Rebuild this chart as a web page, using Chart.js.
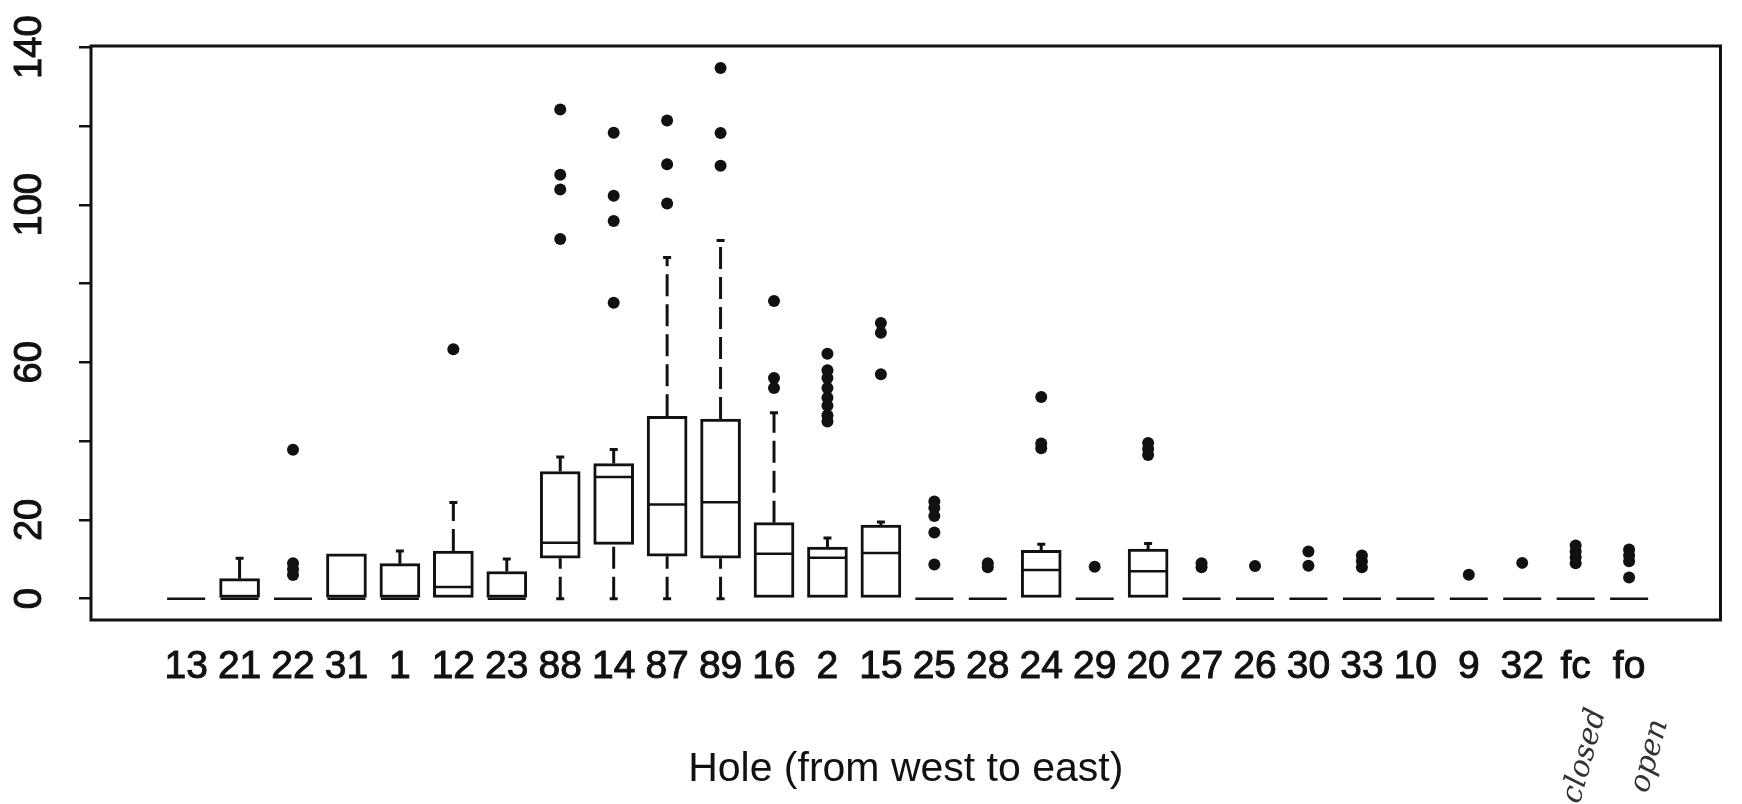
<!DOCTYPE html>
<html>
<head>
<meta charset="utf-8">
<script src="https://cdn.jsdelivr.net/npm/chart.js@4.4.0/dist/chart.umd.min.js"></script>
<style>
  html, body { margin: 0; padding: 0; background: #fff; }
  #wrap { width: 1742px; height: 804px; }
</style>
</head>
<body>
<div id="wrap"><canvas id="myChart" width="1742" height="804"></canvas></div>
<script>
// holes, west to east (fc / fo = closed / open controls)
const categories = ["13", "21", "22", "31", "1", "12", "23", "88", "14", "87", "89", "16", "2", "15",
  "25", "28", "24", "29", "20", "27", "26", "30", "33", "10", "9", "32", "fc", "fo"];

const q1 = [0, 0, 0, 0, 0, 0, 0, 10.3, 13.8, 10.8, 10.3, 0, 0, 0,
  0, 0, 0, 0, 0, 0, 0, 0, 0, 0, 0, 0, 0, 0];
const median = [0, 0, 0, 0, 0, 3, 0, 14.2, 30.9, 23.9, 24.5, 11.4, 10.4, 11.6,
  0, 0, 7.3, 0, 7, 0, 0, 0, 0, 0, 0, 0, 0, 0];
const q3 = [0, 5.1, 0, 11.4, 8.9, 12.1, 6.9, 32.3, 34.3, 46.3, 45.6, 19.3, 13.1, 18.7,
  0, 0, 12.3, 0, 12.6, 0, 0, 0, 0, 0, 0, 0, 0, 0];
const whiskerLow = [0, 0, 0, 0, 0, 0, 0, 0, 0, 0, 0, 0, 0, 0,
  0, 0, 0, 0, 0, 0, 0, 0, 0, 0, 0, 0, 0, 0];
const whiskerHigh = [0, 10.3, 0, 11.4, 12.1, 24.4, 10.1, 36, 37.9, 86.6, 90.9, 47.2, 15.4, 19.5,
  0, 0, 13.8, 0, 14, 0, 0, 0, 0, 0, 0, 0, 0, 0];
const outliers = [
  [], [], [6, 7.5, 9, 37.8], [], [], [63.3], [],
  [91.3, 103.9, 107.6, 124.2],
  [75.1, 95.9, 102.3, 118.3],
  [100.3, 110.3, 121.4],
  [109.9, 118.2, 134.7],
  [53.5, 56, 75.6],
  [45, 46.5, 49, 51, 53.5, 56, 58, 62.2],
  [57, 67.5, 70],
  [8.7, 16.8, 21, 23, 24.7],
  [8, 9],
  [38.2, 39.4, 51.2],
  [8.1],
  [36.5, 38, 39.5],
  [8, 9],
  [8.3],
  [8.4, 12],
  [8, 9.5, 11],
  [],
  [6.1],
  [9.1],
  [9, 10.5, 12, 13.5],
  [5.4, 9.5, 11, 12.5]
];
const yTicks = [0, 20, 40, 60, 80, 100, 120, 140];
const yTickLabels = ["0", "20", "", "60", "", "100", "", "140"]; // R drops the ones that would overlap

const INK = "#111";
const FONT = '"Liberation Sans", Arial, sans-serif';

// build datasets from the arrays
const boxData = [];
const medianData = [];
const whiskerData = [];
const stapleData = [];
const outlierData = [];

categories.forEach((c, i) => {
  const x = i + 1;
  if (q3[i] > q1[i]) boxData.push({ x: x, y: [q1[i], q3[i]] });
  medianData.push({ x: x, y: median[i] });
  if (whiskerHigh[i] > q3[i]) {
    whiskerData.push({ x: x, y: q3[i] }, { x: x, y: whiskerHigh[i] }, { x: x, y: null });
    stapleData.push({ x: x, y: whiskerHigh[i] });
  }
  if (q1[i] > whiskerLow[i]) {
    whiskerData.push({ x: x, y: whiskerLow[i] }, { x: x, y: q1[i] }, { x: x, y: null });
    stapleData.push({ x: x, y: whiskerLow[i] });
  }
  outliers[i].forEach((v) => outlierData.push({ x: x, y: v }));
});

const framePlugin = {
  id: "frame",
  afterDatasetsDraw(chart) {
    const { ctx, chartArea } = chart;
    ctx.save();
    ctx.strokeStyle = INK;
    ctx.lineWidth = 3;
    ctx.strokeRect(chartArea.left, chartArea.top, chartArea.right - chartArea.left, chartArea.bottom - chartArea.top);
    ctx.restore();
  },
  afterDraw(chart) {
    const { ctx } = chart;
    const yScale = chart.scales.y;
    ctx.save();
    ctx.fillStyle = INK;
    ctx.strokeStyle = INK;
    ctx.lineWidth = 1;
    ctx.font = "38px " + FONT;
    ctx.textAlign = "center";
    ctx.textBaseline = "middle";
    yScale.ticks.forEach((t, i) => {
      const py = yScale.getPixelForValue(t.value);
      ctx.save();
      ctx.translate(31, py);
      ctx.rotate(-Math.PI / 2);
      ctx.fillText(yTickLabels[i], 0, 0);
      ctx.strokeText(yTickLabels[i], 0, 0);
      ctx.restore();
    });
    // handwritten notes under the last two holes
    ctx.font = 'italic 30px "DejaVu Serif", serif';
    ctx.fillStyle = "#333";
    [["closed", 1585, 756], ["open", 1650, 756]].forEach(([txt, px, py]) => {
      ctx.save();
      ctx.translate(px, py);
      ctx.rotate(-1.3);
      ctx.fillText(txt, 0, 0);
      ctx.restore();
    });
    ctx.restore();
  }
};

const config = {
  type: "bar",
  data: {
    datasets: [
      {
        type: "scatter",
        data: outlierData,
        pointStyle: "circle",
        pointRadius: 6,
        pointBackgroundColor: INK,
        pointBorderColor: INK,
        pointBorderWidth: 0,
        order: 0,
      },
      {
        type: "scatter",
        data: medianData,
        pointStyle: "line",
        pointRadius: 19,
        pointBorderColor: INK,
        pointBorderWidth: 2.5,
        order: 1,
      },
      {
        type: "scatter",
        data: stapleData,
        pointStyle: "line",
        pointRadius: 4,
        pointBorderColor: INK,
        pointBorderWidth: 3,
        order: 2,
      },
      {
        type: "line",
        data: whiskerData,
        borderColor: INK,
        borderWidth: 3,
        borderDash: [22, 8],
        pointRadius: 0,
        spanGaps: false,
        tension: 0,
        order: 3,
      },
      {
        type: "bar",
        data: boxData,
        backgroundColor: "#fff",
        borderColor: INK,
        borderWidth: 3,
        borderSkipped: false,
        barThickness: 40,
        order: 4,
      },
    ],
  },
  options: {
    responsive: false,
    animation: false,
    layout: { padding: { top: 46, right: 9, left: 0, bottom: 0 } },
    plugins: {
      legend: { display: false },
      tooltip: { enabled: false },
    },
    scales: {
      x: {
        type: "linear",
        offset: false,
        min: -0.78,
        max: 29.71,
        grid: { display: false, drawTicks: false, offset: false },
        border: { display: false },
        afterBuildTicks: (scale) => {
          scale.ticks = categories.map((c, i) => ({ value: i + 1 }));
        },
        afterFit: (scale) => {
          scale.height = 184;
        },
        ticks: {
          autoSkip: false,
          maxRotation: 0,
          minRotation: 0,
          padding: 24,
          color: INK,
          textStrokeColor: INK,
          textStrokeWidth: 1,
          font: { family: FONT, size: 39 },
          callback: (v) => categories[v - 1],
        },
        title: {
          display: true,
          text: "Hole (from west to east)",
          color: INK,
          font: { family: FONT, size: 41 },
          padding: { top: 0, bottom: 10 },
        },
      },
      y: {
        type: "linear",
        min: -5.4,
        max: 140.3,
        afterBuildTicks: (scale) => {
          scale.ticks = yTicks.map((v) => ({ value: v }));
        },
        afterFit: (scale) => {
          scale.width = 91;
        },
        grid: {
          display: true,
          drawOnChartArea: false,
          drawTicks: true,
          tickLength: 12,
          color: INK,
          lineWidth: 2.5,
        },
        border: { display: false },
        ticks: { display: false },
      },
    },
  },
  plugins: [framePlugin],
};

Chart.register(...(Chart.registerables || []));
const myChart = new Chart(document.getElementById("myChart").getContext("2d"), config);
</script>
</body>
</html>
